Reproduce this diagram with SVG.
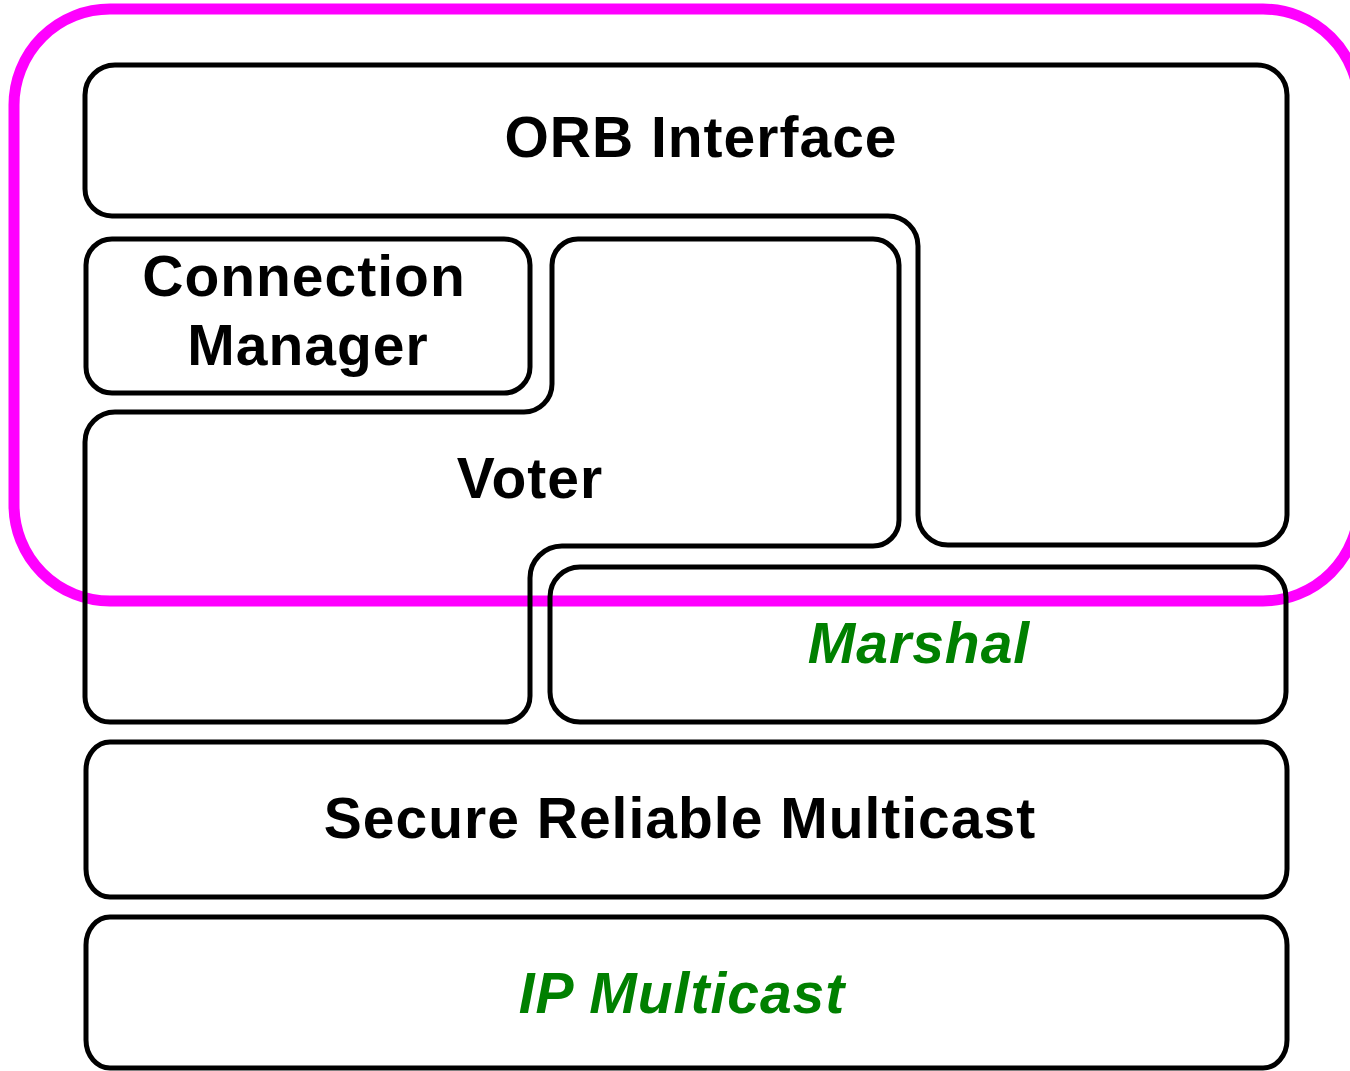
<svg xmlns="http://www.w3.org/2000/svg" width="1350" height="1071" viewBox="0 0 1350 1071">
  <style>
    .box { fill: none; stroke: #000000; stroke-width: 5; stroke-linejoin: round; }
    .lbl { font-family: "Liberation Sans", Arial, sans-serif; font-weight: bold; font-size: 57px; letter-spacing: 1px; text-anchor: middle; fill: #000000; }
    .ext { fill: #008000; font-style: italic; }
    .scope { fill: none; stroke: #ff00ff; stroke-width: 11; }
  </style>
  <rect width="1350" height="1071" fill="#ffffff"/>

  <!-- highlighted region around the upper layers -->
  <g id="highlight">
    <rect class="scope" x="14" y="9" width="1345" height="592" rx="96" ry="96"/>
  </g>

  <g id="orb-interface">
    <path class="box" d="M 115,65 H 1257 A 30,30 0 0 1 1287,95 V 515 A 30,30 0 0 1 1257,545 H 948 A 30,30 0 0 1 918,515 V 246 A 30,30 0 0 0 888,216 H 112 A 27,27 0 0 1 85,189 V 95 A 30,30 0 0 1 115,65 Z"/>
    <text class="lbl" x="701" y="157">ORB Interface</text>
  </g>

  <g id="connection-manager">
    <rect class="box" x="86" y="239" width="444" height="154" rx="26" ry="26"/>
    <text class="lbl" x="304" y="296">Connection</text>
    <text class="lbl" x="308" y="365">Manager</text>
  </g>

  <g id="voter">
    <path class="box" d="M 578,239 H 873 A 26,26 0 0 1 899,265 V 520 A 26,26 0 0 1 873,546 H 562 A 32,32 0 0 0 530,578 V 696 A 26,26 0 0 1 504,722 H 110 A 25,25 0 0 1 85,697 V 442 A 30,30 0 0 1 115,412 H 524 A 28,28 0 0 0 552,384 V 265 A 26,26 0 0 1 578,239 Z"/>
    <text class="lbl" x="530" y="498">Voter</text>
  </g>

  <g id="marshal">
    <rect class="box" x="550" y="567" width="736" height="155" rx="30" ry="30"/>
    <text class="lbl ext" x="919" y="663">Marshal</text>
  </g>

  <g id="secure-reliable-multicast">
    <rect class="box" x="86" y="742" width="1201" height="155" rx="24" ry="28"/>
    <text class="lbl" x="680" y="838">Secure Reliable Multicast</text>
  </g>

  <g id="ip-multicast">
    <rect class="box" x="86" y="917" width="1201" height="151" rx="24" ry="28"/>
    <text class="lbl ext" x="682" y="1013">IP Multicast</text>
  </g>

  <!-- layers touch directly; no connectors are drawn -->
  <g id="connectors"/>
</svg>
